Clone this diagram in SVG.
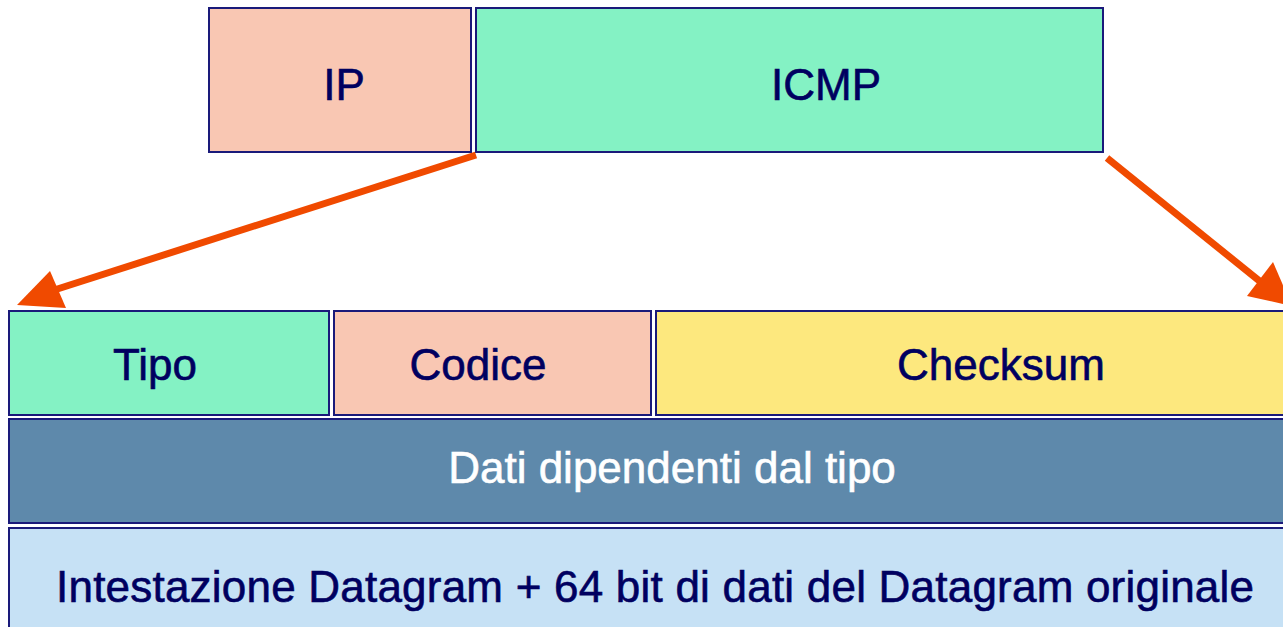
<svg xmlns="http://www.w3.org/2000/svg" width="1283" height="627" viewBox="0 0 1283 627">
  <defs>
    <style>
      .box { stroke: #1a1a7a; stroke-width: 2; }
      .lbl { font-family: "Liberation Sans", Arial, sans-serif; font-size: 44px; fill: #000060; text-anchor: middle; stroke: #000060; stroke-width: 0.6; }
      .lbl-w { fill: #ffffff; stroke: #ffffff; }
      .pink { fill: #f9c7b3; }
      .green { fill: #84f2c4; }
      .yellow { fill: #fde87e; }
      .steel { fill: #5e89ab; }
      .sky { fill: #c6e1f5; }
      .arrow { stroke: #f04a00; stroke-width: 7; fill: none; }
    </style>
  </defs>
  <rect width="1283" height="627" fill="#ffffff"/>

  <!-- encapsulation: IP header + ICMP message -->
  <g id="ip">
    <rect class="box pink" x="209" y="8" width="262" height="144"/>
    <text class="lbl" x="344" y="100">IP</text>
  </g>
  <g id="icmp">
    <rect class="box green" x="476" y="8" width="627" height="144"/>
    <text class="lbl" x="826" y="100">ICMP</text>
  </g>

  <!-- ICMP message fields -->
  <g id="tipo">
    <rect class="box green" x="9" y="311" width="320" height="104"/>
    <text class="lbl" x="155" y="380">Tipo</text>
  </g>
  <g id="codice">
    <rect class="box pink" x="334" y="311" width="317" height="104"/>
    <text class="lbl" x="478" y="380">Codice</text>
  </g>
  <g id="checksum">
    <rect class="box yellow" x="656" y="311" width="640" height="104"/>
    <text class="lbl" x="1001" y="380">Checksum</text>
  </g>
  <g id="dati">
    <rect class="box steel" x="9" y="419" width="1290" height="104"/>
    <text class="lbl lbl-w" x="672" y="483">Dati dipendenti dal tipo</text>
  </g>
  <g id="intestazione">
    <rect class="box sky" x="9" y="528" width="1290" height="120"/>
    <text class="lbl" x="655" y="602" textLength="1198" lengthAdjust="spacing">Intestazione Datagram + 64 bit di dati del Datagram originale</text>
  </g>

  <!-- expansion arrows -->
  <g id="connectors">
    <line class="arrow" x1="476" y1="155" x2="48" y2="292"/>
    <polygon fill="#f04a00" points="17,305 50,271 66,308"/>
    <line class="arrow" x1="1107" y1="158" x2="1262" y2="283"/>
    <polygon fill="#f04a00" points="1292,306 1247,296 1273,262"/>
  </g>
</svg>
